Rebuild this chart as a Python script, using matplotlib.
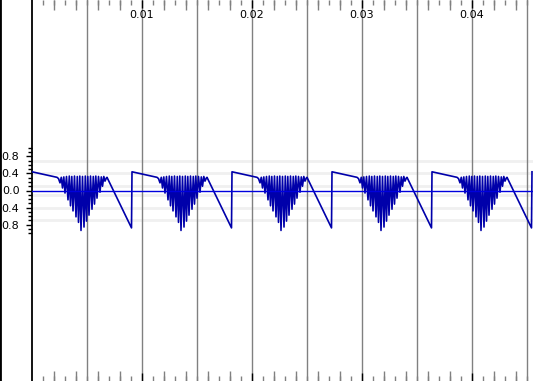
import numpy as np
import matplotlib
matplotlib.use("Agg")
import matplotlib.pyplot as plt
from matplotlib.lines import Line2D

# one cycle of the waveform (phase 0..1 of one period, amplitude)
freq = 110.0
n_cycles = 5
cycle_phase = [0.000, 0.250,
               0.265, 0.280, 0.293, 0.305, 0.318, 0.330, 0.345, 0.360,
               0.373, 0.385, 0.398, 0.410, 0.425, 0.440, 0.453, 0.465,
               0.478, 0.490, 0.505, 0.520, 0.533, 0.545, 0.558, 0.570,
               0.585, 0.600, 0.613, 0.625, 0.638, 0.650, 0.665, 0.680,
               0.693, 0.705, 0.718, 0.730, 0.745, 0.750,
               0.995, 1.000]
cycle_value = [0.44, 0.31,
               0.28, 0.18, 0.31, 0.06, 0.32, -0.06, 0.33, -0.22,
               0.34, -0.36, 0.33, -0.48, 0.34, -0.62, 0.33, -0.75,
               0.34, -0.94, 0.33, -0.86, 0.34, -0.72, 0.33, -0.58,
               0.34, -0.44, 0.33, -0.32, 0.34, -0.18, 0.33, -0.04,
               0.32, 0.10, 0.33, 0.22, 0.30, 0.31,
               -0.88, 0.44]

x_labels = [0.01, 0.02, 0.03, 0.04]
y_major = [-0.8, -0.4, 0.0, 0.4, 0.8]
y_minor = np.round(np.arange(-1.0, 1.01, 0.1), 2)
x_minor = np.round(np.arange(0.001, 0.046, 0.001), 3)
x_long = [0.002, 0.004, 0.006, 0.008, 0.012, 0.014, 0.016, 0.018,
          0.022, 0.024, 0.026, 0.028, 0.032, 0.034, 0.036, 0.038,
          0.042, 0.044]
x_grid = [0.005, 0.01, 0.015, 0.02, 0.025, 0.03, 0.035, 0.04, 0.045]
y_bands = [-0.7, -0.4, -0.1, 0.1, 0.4, 0.7]

ph = np.array(cycle_phase)
vals = np.array(cycle_value)
t = np.concatenate([(k + ph) / freq for k in range(n_cycles)])
v = np.tile(vals, n_cycles)

fig = plt.figure(figsize=(5.33, 3.81), dpi=100)
ax = fig.add_axes([32 / 533, 0, 1 - 32 / 533, 1])
ax.set_xlim(0, 501 / 11000)
ax.set_ylim(-4.482, 4.482)

# second set of x ticks (the longer ones every 2 ms)
ax2 = ax.twiny()
ax2.set_xlim(ax.get_xlim())
ax2.set_xticks(x_long)
ax2.tick_params(axis="x", which="major", direction="in", length=7, width=1, color="#808080",
                top=True, bottom=True, labeltop=False, labelbottom=False)
for s in ax2.spines.values():
    s.set_visible(False)

for yb in y_bands:
    ax.axhline(yb, color="#f0f0f0", lw=2, zorder=0)
for xg in x_grid:
    ax.axvline(xg, color="#808080", lw=1, zorder=1)

ax.plot(t, v, color="#0000aa", lw=1.2, zorder=3)
ax.axhline(0, color="#0000dd", lw=1, zorder=4)

for s in ["top", "right", "bottom"]:
    ax.spines[s].set_visible(False)
ax.spines["left"].set_linewidth(1.3)

ax.set_yticks(y_major)
ax.set_yticklabels([f"{abs(y):.1f}" for y in y_major])
ax.set_yticks(y_minor, minor=True)
ax.tick_params(axis="y", which="major", direction="out", length=4, width=1, pad=5, labelsize=8)
ax.tick_params(axis="y", which="minor", direction="out", length=3, width=1)

ax.set_xticks(x_labels)
ax.set_xticklabels([f"{x:g}" for x in x_labels])
ax.set_xticks(x_minor, minor=True)
ax.tick_params(axis="x", which="major", direction="in", length=6, width=1, color="black",
               top=True, bottom=True, labeltop=True, labelbottom=False, pad=-14.5, labelsize=8)
ax.tick_params(axis="x", which="minor", direction="in", length=3.5, width=1, color="#808080",
               top=True, bottom=True)

fig.add_artist(Line2D([0, 0], [0, 1], transform=fig.transFigure, color="black", lw=2))

fig.savefig("out.png", dpi=100)
